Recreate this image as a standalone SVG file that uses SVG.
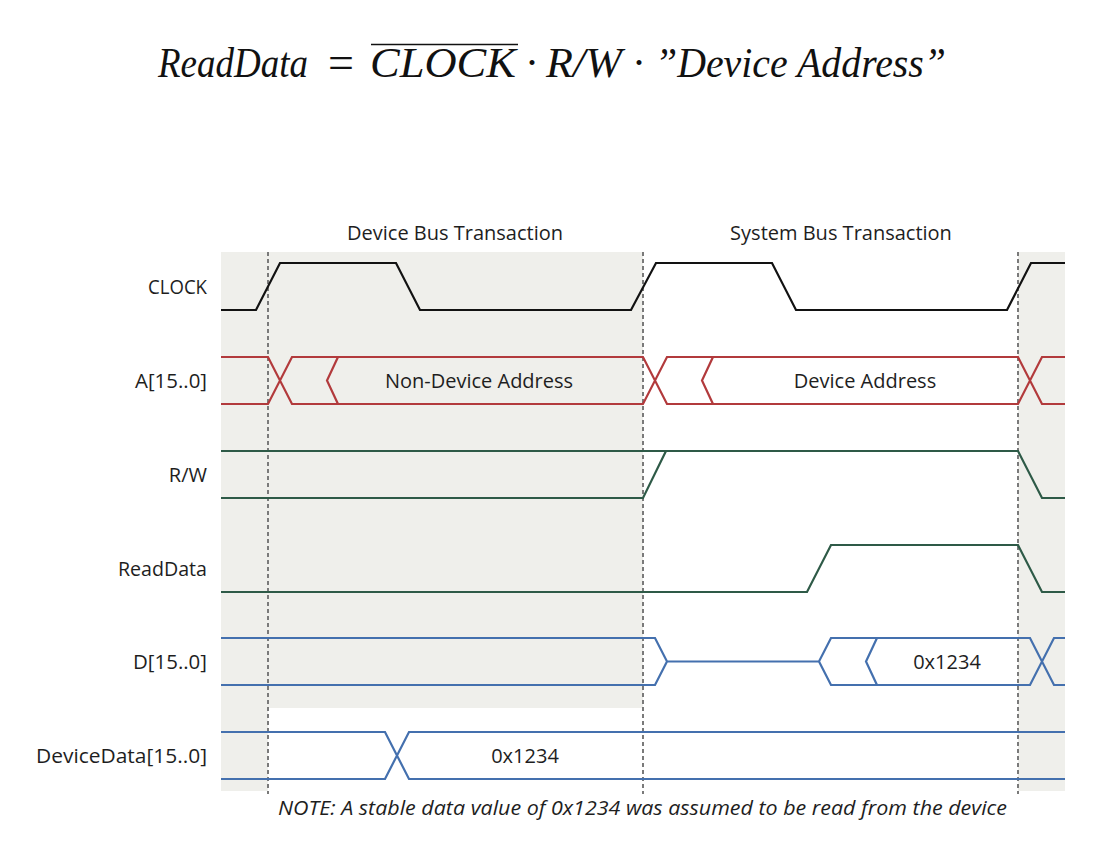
<svg xmlns="http://www.w3.org/2000/svg" width="1098" height="856" viewBox="0 0 1098 856">
<style>
.lbl{font-family:"Open Sans","Liberation Sans",sans-serif;font-size:20px;fill:#1e1e1e}
.r{text-anchor:end}
.m{text-anchor:middle}
.sig{fill:none;stroke-linejoin:miter;stroke-width:2.2}
.clk{stroke:#121212}
.addr{stroke:#b23a3c}
.ctl{stroke:#2e5a47}
.dat{stroke:#4470ae}
.guide{stroke:#7a7a7a;stroke-width:2;stroke-dasharray:4 3}
.math{font-family:"Liberation Serif","DejaVu Serif",serif;font-size:42px;font-style:italic;fill:#111}
.up{font-style:normal}
.note{font-family:"Open Sans","Liberation Sans",sans-serif;font-size:20px;font-style:italic;fill:#1e1e1e}
</style>
<rect width="1098" height="856" fill="#ffffff"/>
<g id="title">
<line x1="371" y1="44.5" x2="518" y2="44.5" stroke="#111" stroke-width="1.6"/>
<text class="math" y="77"><tspan x="158" textLength="150" lengthAdjust="spacingAndGlyphs">ReadData</tspan><tspan class="up" x="328" y="78" style="font-size:46px">=</tspan><tspan x="370" y="77" textLength="146" lengthAdjust="spacingAndGlyphs">CLOCK</tspan><tspan class="up" x="525">·</tspan><tspan x="546" textLength="76" lengthAdjust="spacingAndGlyphs">R/W</tspan><tspan class="up" x="632">·</tspan><tspan x="655" textLength="291" lengthAdjust="spacingAndGlyphs">”Device Address”</tspan></text>
</g>
<g id="background">
<path d="M221,252 H643 V708 H268 V791 H221 Z" fill="#efefeb"/>
<rect x="1018" y="252" width="47" height="539" fill="#efefeb"/>
</g>
<g id="phase-labels">
<text class="lbl m" x="455" y="240">Device Bus Transaction</text>
<text class="lbl m" x="841" y="240">System Bus Transaction</text>
</g>
<g id="connectors">
<line class="guide" x1="268" y1="252" x2="268" y2="794"/>
<line class="guide" x1="643" y1="252" x2="643" y2="794"/>
<line class="guide" x1="1018" y1="252" x2="1018" y2="794"/>
</g>
<g id="sig-clock">
<text class="lbl" x="148" y="294" textLength="59" lengthAdjust="spacingAndGlyphs">CLOCK</text>
<path class="sig clk" d="M221,310 H256 L280,263 H396 L420,310 H631 L656,263 H772 L796,310 H1007 L1031,263 H1065"/>
</g>
<g id="sig-address">
<text class="lbl" x="135" y="388" textLength="72" lengthAdjust="spacingAndGlyphs">A[15..0]</text>
<path class="sig addr" d="M221,357 H268 L292,404 H643 L667,357 H1018 L1042,404 H1065 M221,404 H268 L292,357 H643 L667,404 H1018 L1042,357 H1065 M338,357 L327,380.5 L338,404 M713,357 L702,380.5 L713,404"/>
<text class="lbl m" x="479" y="388">Non-Device Address</text>
<text class="lbl m" x="865" y="388">Device Address</text>
</g>
<g id="sig-rw">
<text class="lbl r" x="207" y="482">R/W</text>
<path class="sig ctl" d="M221,451 H1018 L1042,498 H1065 M221,498 H643 L666,451"/>
</g>
<g id="sig-readdata">
<text class="lbl" x="118" y="576" textLength="89" lengthAdjust="spacingAndGlyphs">ReadData</text>
<path class="sig ctl" d="M221,592 H807 L831,545 H1018 L1042,592 H1065"/>
</g>
<g id="sig-data">
<text class="lbl" x="133" y="669" textLength="74" lengthAdjust="spacingAndGlyphs">D[15..0]</text>
<path class="sig dat" d="M221,638 H655 L667,661.5 H819 L831,638 H1030 L1054,685 H1065 M221,685 H655 L667,661.5 M819,661.5 L831,685 H1030 L1054,638 H1065 M877,638 L866,661.5 L877,685"/>
<text class="lbl m" x="947" y="669">0x1234</text>
</g>
<g id="sig-devicedata">
<text class="lbl" x="36" y="763" textLength="171" lengthAdjust="spacingAndGlyphs">DeviceData[15..0]</text>
<path class="sig dat" d="M221,732 H385 L409,779 H1065 M221,779 H385 L409,732 H1065"/>
<text class="lbl m" x="525" y="763">0x1234</text>
</g>
<g id="note">
<text class="note" x="278" y="815" textLength="729" lengthAdjust="spacingAndGlyphs">NOTE: A stable data value of 0x1234 was assumed to be read from the device</text>
</g>
</svg>
